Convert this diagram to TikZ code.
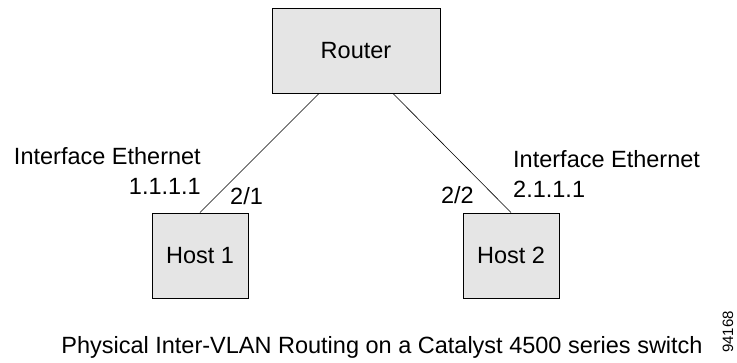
\documentclass[tikz,border=0pt]{standalone}
\usepackage{fontspec}
\setmainfont{Liberation Sans}
\usetikzlibrary{positioning}
\definecolor{boxgray}{gray}{0.9}

\begin{document}
\begin{tikzpicture}[-,thin,node distance=205pt,
    box node/.style={draw=black,line width=0.9pt,fill=boxgray,minimum height=85pt,inner sep=0pt,font=\fontsize{23.5}{30}\selectfont},
    label node/.style={inner sep=0pt,font=\fontsize{23.5}{30}\selectfont}]

            \useasboundingbox (0,0) rectangle (737pt,-362pt);

            \node[box node, minimum width=168pt] (router) at (356pt,-50.5pt) {Router};
            \node[box node, minimum width=96pt] (host1) [below of = router, xshift=-156]{Host 1};
            \node[box node, minimum width=96pt] (host2) [below of = router, xshift=155]{Host 2};

            \node[label node, align=right, anchor=north east] (if1) at (201pt,-147pt) {Interface Ethernet\\1.1.1.1};
            \node[label node, align=left, anchor=north west] (if2) at (513pt,-150pt) {Interface Ethernet\\2.1.1.1};
            \node[label node, anchor=base west] (port1) at (230pt,-204pt) {2/1};
            \node[label node, anchor=base east] (port2) at (474pt,-203pt) {2/2};

            \node[label node, anchor=base] (caption) at (382pt,-353pt) {Physical Inter-VLAN Routing on a Catalyst 4500 series switch};
            \node[inner sep=0pt, rotate=90, font=\fontsize{15}{18}\selectfont] (figno) at (728pt,-332pt) {94168};

            \path[line width=0.6pt]
                ([xshift=-37]router.south) edge (host1.north)
                ([xshift=37]router.south) edge (host2.north)
            ;
        \end{tikzpicture}
\end{document}
